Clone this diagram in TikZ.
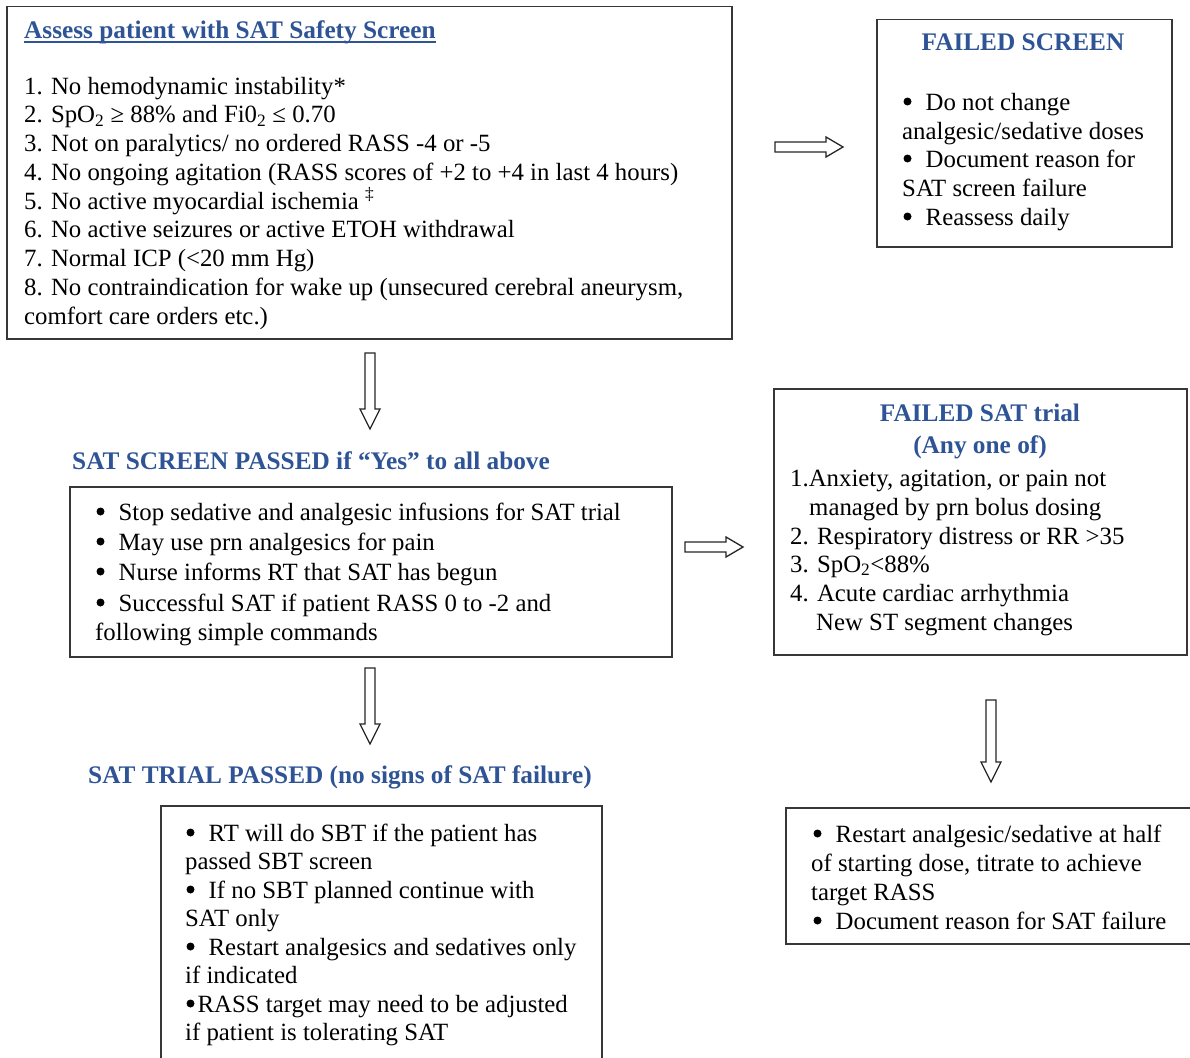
\documentclass[tikz,border=0pt]{standalone}
\usepackage{fontspec}
\setmainfont{Liberation Serif}
\usetikzlibrary{calc}
\definecolor{hblue}{RGB}{46,84,150}
\definecolor{framec}{RGB}{55,55,55}
\newcommand\bul{\hspace*{23.5pt}}
\newcommand\bulnarrow{\hspace*{12.5pt}}
\newcommand\bdot[1]{\fill ($(#1.base west)+(5.5,-8.5)$) circle (4pt);}
\newcommand\hollowright[2]{%
  \draw[harrow] ($(#1)+(0,-5)$) -- ($(#2)+(-17,-5)$) -- ($(#2)+(-17,-10)$) -- (#2)
    -- ($(#2)+(-17,10)$) -- ($(#2)+(-17,5)$) -- ($(#1)+(0,5)$) -- cycle;}
\newcommand\hollowdown[2]{%
  \draw[harrow] ($(#1)+(-5,0)$) -- ($(#2)+(-5,-20)$) -- ($(#2)+(-10,-20)$) -- (#2)
    -- ($(#2)+(10,-20)$) -- ($(#2)+(5,-20)$) -- ($(#1)+(5,0)$) -- cycle;}
\begin{document}
\begin{tikzpicture}[x=1pt,y=-1pt,
  box/.style={draw=framec,line width=1.5pt,anchor=north west,inner sep=0pt},
  txt/.style={anchor=base west,inner sep=0pt,font=\fontsize{24.8}{29}\selectfont},
  head/.style={anchor=base west,inner sep=0pt,font=\fontsize{25.3}{29}\selectfont\bfseries,text=hblue},
  chead/.style={head,anchor=base},
  harrow/.style={draw=black!85,line width=1.3pt,fill=white,line join=miter}]
\useasboundingbox (0,0) rectangle (1190,1057);
\clip (0,0) rectangle (1190,1057);
\fill[white] (0,0) rectangle (1190,1057);

% ---------- Box 1: safety screen ----------
\node[box,minimum width=725pt,minimum height=332pt] (b1) at (6,6) {};
\node[head] (t1) at (24,38) {Assess patient with SAT Safety Screen};
\draw[hblue,line width=1.5pt] ($(t1.base west)+(0,4)$) -- ($(t1.base east)+(0,4)$);
\node[txt] (l11) at (24,94)     {1. No hemodynamic instability*};
\node[txt] (l12) at (24,122.75) {2. SpO\textsubscript{2} ≥ 88\% and Fi0\textsubscript{2} ≤ 0.70};
\node[txt] (l13) at (24,151.5)  {3. Not on paralytics/ no ordered RASS -4 or -5};
\node[txt] (l14) at (24,180.25) {4. No ongoing agitation (RASS scores of +2 to +4 in last 4 hours)};
\node[txt] (l15) at (24,209)    {5. No active myocardial ischemia \textsuperscript{‡}};
\node[txt] (l16) at (24,237.75) {6. No active seizures or active ETOH withdrawal};
\node[txt] (l17) at (24,266.5)  {7. Normal ICP (<20 mm Hg)};
\node[txt] (l18) at (24,295.25) {8. No contraindication for wake up (unsecured cerebral aneurysm,};
\node[txt] (l19) at (24,324)    {comfort care orders etc.)};

% ---------- Box 2: failed screen ----------
\node[box,minimum width=295pt,minimum height=227pt] (b2) at (876,19) {};
\node[chead] (t2) at (1023,51) {FAILED SCREEN};
\node[txt] (l21) at (902,110) {\bul Do not change};
\node[txt] (l22) at (902,139) {analgesic/sedative doses};
\node[txt] (l23) at (902,167) {\bul Document reason for};
\node[txt] (l24) at (902,196) {SAT screen failure};
\node[txt] (l25) at (902,225) {\bul Reassess daily};
\bdot{l21} \bdot{l23} \bdot{l25}

% ---------- Box 3: screen passed ----------
\node[head] (t3) at (72,469) {SAT SCREEN PASSED if “Yes” to all above};
\node[box,minimum width=602pt,minimum height=170pt] (b3) at (69,486) {};
\node[txt] (l31) at (95,520) {\bul Stop sedative and analgesic infusions for SAT trial};
\node[txt] (l32) at (95,550) {\bul May use prn analgesics for pain};
\node[txt] (l33) at (95,580) {\bul Nurse informs RT that SAT has begun};
\node[txt] (l34) at (95,611) {\bul Successful SAT if patient RASS 0 to -2 and};
\node[txt] (l35) at (95,640) {following simple commands};
\bdot{l31} \bdot{l32} \bdot{l33} \bdot{l34}

% ---------- Box 4: failed SAT trial ----------
\node[box,minimum width=413pt,minimum height=266pt] (b4) at (773,388) {};
\node[chead] (t41) at (980,421) {FAILED SAT trial};
\node[chead] (t42) at (980,453) {(Any one of)};
\node[txt] (l41) at (790,486) {1.Anxiety, agitation, or pain not};
\node[txt] (l42) at (809,515) {managed by prn bolus dosing};
\node[txt] (l43) at (790,544) {2. Respiratory distress or RR >35};
\node[txt] (l44) at (790,572) {3. SpO\textsubscript{2}<88\%};
\node[txt] (l45) at (790,601) {4. Acute cardiac arrhythmia};
\node[txt] (l46) at (816,630) {New ST segment changes};

% ---------- Box 5: trial passed ----------
\node[head] (t5) at (88,783) {SAT TRIAL PASSED (no signs of SAT failure)};
\node[box,minimum width=441pt,minimum height=300pt] (b5) at (160,805) {};
\node[txt] (l51) at (185,841)   {\bul RT will do SBT if the patient has};
\node[txt] (l52) at (185,869.5) {passed SBT screen};
\node[txt] (l53) at (185,898)   {\bul If no SBT planned continue with};
\node[txt] (l54) at (185,926.5) {SAT only};
\node[txt] (l55) at (185,955)   {\bul Restart analgesics and sedatives only};
\node[txt] (l56) at (185,983.5) {if indicated};
\node[txt] (l57) at (185,1012)  {\bulnarrow RASS target may need to be adjusted};
\node[txt] (l58) at (185,1040.5){if patient is tolerating SAT};
\bdot{l51} \bdot{l53} \bdot{l55} \bdot{l57}

% ---------- Box 6: restart ----------
\node[box,minimum width=404.5pt,minimum height=136pt] (b6) at (785,807) {};
\node[txt] (l61) at (812,842) {\bul Restart analgesic/sedative at half};
\node[txt] (l62) at (811,871) {of starting dose, titrate to achieve};
\node[txt] (l63) at (811,900) {target RASS};
\node[txt] (l64) at (812,929) {\bul Document reason for SAT failure};
\bdot{l61} \bdot{l64}

% ---------- hollow arrows ----------
\coordinate (a1s) at (775,147); \coordinate (a1e) at (843,147);
\coordinate (a2s) at (370,353); \coordinate (a2e) at (370,429);
\coordinate (a3s) at (685,547); \coordinate (a3e) at (743,547);
\coordinate (a4s) at (370,668); \coordinate (a4e) at (370,744);
\coordinate (a5s) at (991,700); \coordinate (a5e) at (991,782);
\hollowright{a1s}{a1e}
\hollowdown{a2s}{a2e}
\hollowright{a3s}{a3e}
\hollowdown{a4s}{a4e}
\hollowdown{a5s}{a5e}
\end{tikzpicture}
\end{document}
